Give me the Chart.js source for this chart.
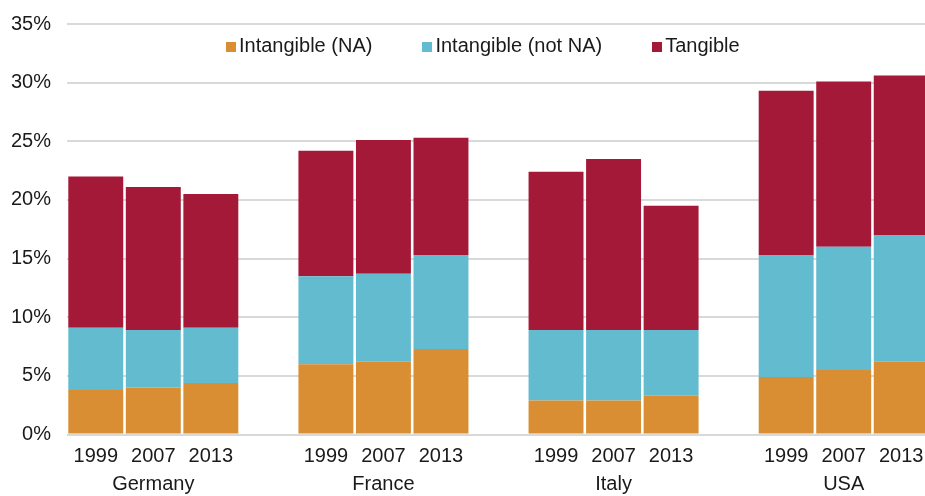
<!DOCTYPE html>
<html>
<head>
<meta charset="utf-8">
<script src="https://cdn.jsdelivr.net/npm/chart.js@4/dist/chart.umd.min.js"></script>
<style>
  html, body { margin: 0; padding: 0; background: #fff; overflow: hidden; }
  #wrap { position: relative; width: 930px; height: 496px; }
  #legend {
    position: absolute; left: 226px; top: 33px;
    display: flex; list-style: none; margin: 0; padding: 0;
    font: 20px "Liberation Sans", Arial, sans-serif; color: #1a1a1a;
  }
  #legend li { display: flex; align-items: center; margin-right: 50px; line-height: 24px; }
  #legend i { display: inline-block; width: 10px; height: 10px; margin-right: 3px; margin-top: 3px; }
</style>
</head>
<body>
<div id="wrap">
  <canvas id="chart" width="930" height="496"></canvas>
  <ul id="legend"></ul>
</div>
<script>
// one slot per bar, empty slot between countries
const countries = ["Germany", "France", "Italy", "USA"];
const years = ["1999", "2007", "2013"];

const intangibleNA    = [3.8, 4.0, 4.4, null, 6.0, 6.2, 7.3, null, 2.9, 2.9, 3.3, null, 4.9, 5.5, 6.2];
const intangibleNotNA = [5.3, 4.9, 4.7, null, 7.5, 7.5, 8.0, null, 6.0, 6.0, 5.6, null, 10.4, 10.5, 10.8];
const tangible        = [12.9, 12.2, 11.4, null, 10.7, 11.4, 10.0, null, 13.5, 14.6, 10.6, null, 14.0, 14.1, 13.6];

const yTicks = [0, 5, 10, 15, 20, 25, 30, 35];

const COLORS = {
  na: "#d98e34",
  notNa: "#63bbd0",
  tangible: "#a31937",
};

// labels: year on first line, country under the middle year
const labels = [];
countries.forEach(function(country, ci) {
  years.forEach(function(year, yi) {
    labels.push([year, yi === 1 ? country : ""]);
  });
  if (ci < countries.length - 1) labels.push(["", ""]);
});

const FONT = { family: "'Liberation Sans', Arial, sans-serif", size: 20 };

const datasets = [
  { label: "Intangible (NA)", data: intangibleNA, backgroundColor: COLORS.na },
  { label: "Intangible (not NA)", data: intangibleNotNA, backgroundColor: COLORS.notNa },
  { label: "Tangible", data: tangible, backgroundColor: COLORS.tangible },
];

new Chart(document.getElementById("chart"), {
  type: "bar",
  data: {
    labels,
    datasets: datasets.map((d) => Object.assign({ borderWidth: 0, barPercentage: 0.955, categoryPercentage: 1 }, d)),
  },
  options: {
    responsive: false,
    animation: false,
    layout: { padding: { top: 24, right: 0, left: 0, bottom: 0 } },
    plugins: { legend: { display: false }, tooltip: { enabled: false } },
    scales: {
      x: {
        stacked: true,
        grid: { display: false },
        border: { display: false },
        ticks: { color: "#1a1a1a", font: Object.assign({ lineHeight: 1.4 }, FONT), padding: 0, maxRotation: 0, autoSkip: false },
        afterFit: function(scale) { scale.height = 61.5; },
      },
      y: {
        stacked: true,
        min: yTicks[0],
        max: yTicks[yTicks.length - 1],
        afterBuildTicks: function(scale) { scale.ticks = yTicks.map((v) => ({ value: v })); },
        // invisible tick marks keep the labels off the plot without extra top padding
        grid: { color: "#d9d9d9", lineWidth: 2, drawTicks: true, tickLength: 16, tickColor: "rgba(0,0,0,0)" },
        border: { display: false },
        ticks: { color: "#1a1a1a", font: FONT, padding: 0, callback: (v) => v + "%" },
        afterFit: function(scale) { scale.width = 67; },
      },
    },
  },
});

document.getElementById("legend").innerHTML = datasets.map((d) =>
  `<li><i style="background:${d.backgroundColor}"></i>${d.label}</li>`
).join("");
</script>
</body>
</html>
